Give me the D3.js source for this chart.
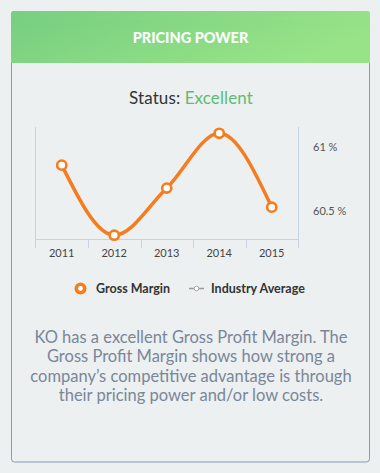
<!DOCTYPE html>
<html><head><meta charset="utf-8">
<script src="https://cdn.jsdelivr.net/npm/d3@7"></script>
<style>
html,body{margin:0;padding:0;background:#ecf0f1;}
svg{display:block;}
</style></head>
<body>
<svg id="c" width="380" height="473"></svg>
<script>
const years = ["2011","2012","2013","2014","2015"];
const grossMargin = [60.86, 60.31, 60.68, 61.11, 60.53];
const yTicks = [60.5, 61];
const title = "PRICING POWER";
const statusLabel = "Status: ";
const statusValue = "Excellent";
const legendLabels = ["Gross Margin", "Industry Average"];
const paragraph = [
  "KO has a excellent Gross Profit Margin. The",
  "Gross Profit Margin shows how strong a",
  "company\u2019s competitive advantage is through",
  "their pricing power and/or low costs."
];

const svg = d3.select("#c");
const FONT = "Lato, 'Source Sans Pro', sans-serif";
const defs = svg.append("defs");
const grad = defs.append("linearGradient").attr("id","hg").attr("x1","0").attr("y1","0").attr("x2","1").attr("y2","0.3");
grad.append("stop").attr("offset","0").attr("stop-color","#77cf80");
grad.append("stop").attr("offset","1").attr("stop-color","#98e388");

// card
svg.append("rect").attr("x",11.5).attr("y",11.5).attr("width",358).attr("height",450.5)
  .attr("rx",3).attr("fill","#ecf0f1").attr("stroke","#8b9bb3").attr("stroke-width",1);
svg.append("rect").attr("x",11).attr("y",11).attr("width",359).attr("height",52).attr("rx",3)
  .attr("fill","url(#hg)");
svg.append("rect").attr("x",11).attr("y",20).attr("width",359).attr("height",43).attr("fill","url(#hg)");
svg.append("text").attr("x",190.5).attr("y",43).attr("text-anchor","middle")
  .attr("font-family",FONT).attr("font-weight","900").attr("font-size",14.5).attr("fill","#fff").text(title);

const st = svg.append("text").attr("x",191).attr("y",104).attr("text-anchor","middle")
  .attr("font-family",FONT).attr("font-size",17).attr("letter-spacing",0.1);
st.append("tspan").attr("fill","#333").text(statusLabel);
st.append("tspan").attr("fill","#5cbd72").text(statusValue);

// chart
const x = d3.scaleBand().domain(years).range([35.5, 298]);
const y = d3.scaleLinear().domain([60.5, 61]).range([211, 147.3]);
const g = svg.append("g");
const axisCol = "#c5d3e3";
g.append("line").attr("x1",35.5).attr("x2",35.5).attr("y1",127).attr("y2",248).attr("stroke",axisCol);
g.append("line").attr("x1",298.5).attr("x2",298.5).attr("y1",127).attr("y2",248).attr("stroke",axisCol);

const xAxis = g.append("g").attr("transform","translate(0,239.5)")
  .call(d3.axisBottom(x).tickSize(0).tickPadding(10));
xAxis.select(".domain").attr("stroke",axisCol).attr("d","M35.5,0H298.5");
xAxis.selectAll("text").attr("font-family",FONT).attr("font-size",11).attr("fill","#444");
g.selectAll(".bt").data(years.slice(1)).enter().append("line")
  .attr("x1",d=>Math.round(x(d))+0.5).attr("x2",d=>Math.round(x(d))+0.5)
  .attr("y1",239.5).attr("y2",248).attr("stroke",axisCol);

const yAxis = g.append("g").attr("transform","translate(313,0)")
  .call(d3.axisRight(y).tickValues(yTicks).tickSize(0).tickPadding(0).tickFormat(d=>d3.format("")(d)+" %"));
yAxis.select(".domain").remove();
yAxis.selectAll("text").attr("font-family",FONT).attr("font-size",11).attr("fill","#555");

const line = d3.line().x((d,i)=>x(years[i])+x.bandwidth()/2).y(d=>y(d)).curve(d3.curveMonotoneX);
g.append("path").attr("d",line(grossMargin)).attr("fill","none").attr("stroke","#f57c1f").attr("stroke-width",3.5);
g.selectAll(".pt").data(grossMargin).enter().append("circle")
  .attr("cx",(d,i)=>x(years[i])+x.bandwidth()/2).attr("cy",d=>y(d)).attr("r",4.6)
  .attr("fill","#fff").attr("stroke","#f57c1f").attr("stroke-width",2.6);

// legend
const lg = svg.append("g");
lg.append("circle").attr("cx",80.5).attr("cy",288.5).attr("r",4.2).attr("fill","#fff").attr("stroke","#f57c1f").attr("stroke-width",3.6);
lg.append("text").attr("x",96).attr("y",293).attr("font-family",FONT).attr("font-weight","700")
  .attr("font-size",12.5).attr("fill","#333").text(legendLabels[0]);
lg.append("line").attr("x1",189).attr("x2",204).attr("y1",288.5).attr("y2",288.5).attr("stroke","#999").attr("stroke-width",1.5);
lg.append("circle").attr("cx",196.5).attr("cy",288.5).attr("r",2.3).attr("fill","#fff").attr("stroke","#aaa").attr("stroke-width",1);
lg.append("text").attr("x",211).attr("y",293).attr("font-family",FONT).attr("font-weight","700")
  .attr("font-size",12.5).attr("fill","#333").text(legendLabels[1]);

// paragraph
svg.selectAll(".para").data(paragraph).enter().append("text")
  .attr("x",191).attr("y",(d,i)=>343 + i*19.3).attr("text-anchor","middle")
  .attr("font-family",FONT).attr("font-size",16.5).attr("fill","#7a8699").text(d=>d);
</script>
</body></html>
